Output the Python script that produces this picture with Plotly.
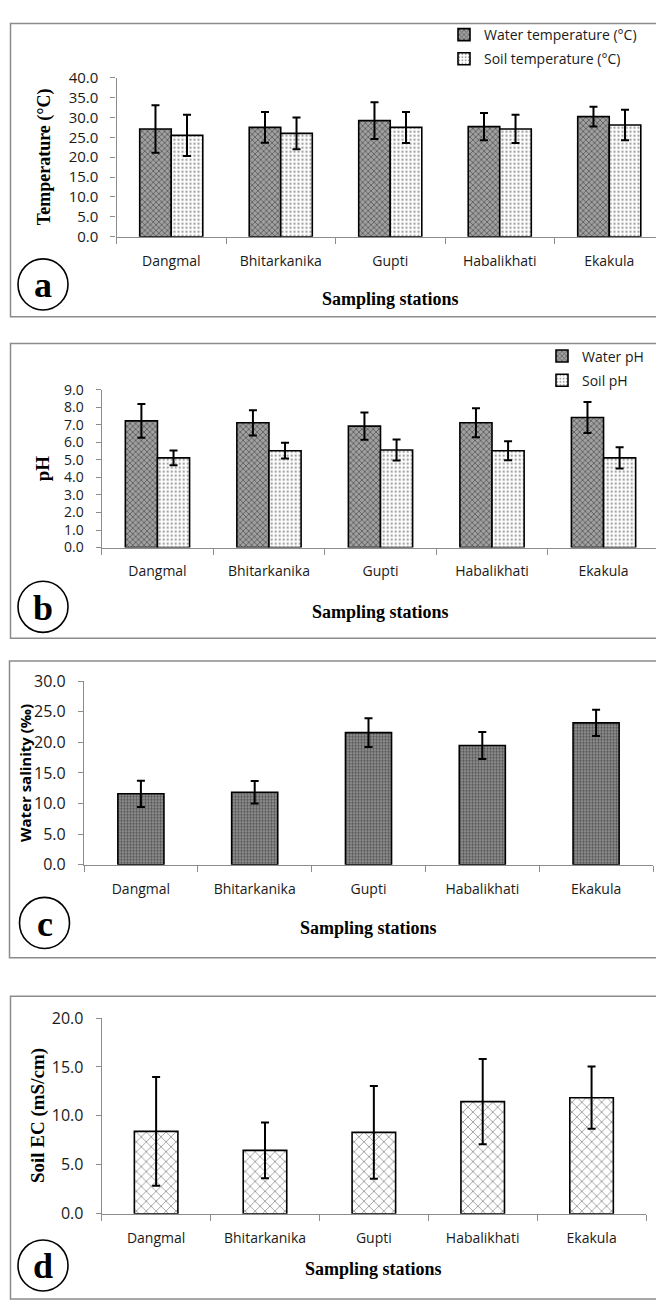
import plotly.graph_objects as go

# page body has an 8px default margin: draw in reference pixel coords shifted by it
OFF = 8
W, H = 664 - OFF, 1305 - OFF

stations = ["Dangmal", "Bhitarkanika", "Gupti", "Habalikhati", "Ekakula"]

water_temp = [27.1, 27.5, 29.2, 27.7, 30.2]
water_temp_sd = [5.95, 3.85, 4.6, 3.45, 2.5]
soil_temp = [25.5, 26.0, 27.5, 27.1, 28.1]
soil_temp_sd = [5.2, 4.0, 3.9, 3.55, 3.85]

water_ph = [7.22, 7.11, 6.92, 7.11, 7.41]
water_ph_sd = [0.96, 0.72, 0.77, 0.83, 0.88]
soil_ph = [5.11, 5.52, 5.56, 5.52, 5.11]
soil_ph_sd = [0.42, 0.45, 0.6, 0.54, 0.6]

salinity = [11.6, 11.84, 21.6, 19.5, 23.2]
salinity_sd = [2.15, 1.83, 2.35, 2.2, 2.15]

soil_ec = [8.41, 6.47, 8.31, 11.46, 11.86]
soil_ec_sd = [5.56, 2.85, 4.74, 4.36, 3.18]

temp_ticks = [0, 5, 10, 15, 20, 25, 30, 35, 40]
ph_ticks = [0, 1, 2, 3, 4, 5, 6, 7, 8, 9]
sal_ticks = [0, 5, 10, 15, 20, 25, 30]
ec_ticks = [0, 5, 10, 15, 20]


def px(x):
    return (x - OFF) / W


def py(y):
    return 1 - (y - OFF) / H


CAT_FONT = dict(family="Open Sans", size=14, color="#1a1a1a")
SERIF_B = "Liberation Serif"
AX = "#8c8c8c"

water_pat = dict(shape="x", fgcolor="#1e1e1e", bgcolor="#a0a0a0", size=4, solidity=0.4)
soil_pat = dict(shape=".", fgcolor="#444444", bgcolor="#ffffff", size=4, solidity=0.28)
sal_pat = dict(shape=".", fgcolor="#111111", bgcolor="#9a9a9a", size=3, solidity=0.5)
ec_pat = dict(shape="x", fgcolor="#222222", bgcolor="#ffffff", size=7, solidity=0.22)

err = dict(type="data", color="black", thickness=2, width=4)
line = dict(color="black", width=1.6)

fig = go.Figure()

# Panel a
fig.add_trace(go.Bar(x=stations, y=water_temp, name="Water temperature (°C)",
                     error_y=dict(array=water_temp_sd, **err),
                     marker=dict(color="#a0a0a0", pattern=water_pat, line=line),
                     xaxis="x", yaxis="y", legend="legend", legendgroup="a1"))
fig.add_trace(go.Bar(x=stations, y=soil_temp, name="Soil temperature (°C)",
                     error_y=dict(array=soil_temp_sd, **err),
                     marker=dict(color="white", pattern=soil_pat, line=line),
                     xaxis="x", yaxis="y", legend="legend", legendgroup="a2"))
# Panel b
fig.add_trace(go.Bar(x=stations, y=water_ph, name="Water pH",
                     error_y=dict(array=water_ph_sd, **err),
                     marker=dict(color="#a0a0a0", pattern=water_pat, line=line),
                     xaxis="x2", yaxis="y2", legend="legend2", legendgroup="b1"))
fig.add_trace(go.Bar(x=stations, y=soil_ph, name="Soil pH",
                     error_y=dict(array=soil_ph_sd, **err),
                     marker=dict(color="white", pattern=soil_pat, line=line),
                     xaxis="x2", yaxis="y2", legend="legend2", legendgroup="b2"))
# Panel c
fig.add_trace(go.Bar(x=stations, y=salinity, name="Water salinity", width=0.405,
                     error_y=dict(array=salinity_sd, **err),
                     marker=dict(color="#9a9a9a", pattern=sal_pat, line=line),
                     xaxis="x3", yaxis="y3", showlegend=False))
# Panel d
fig.add_trace(go.Bar(x=stations, y=soil_ec, name="Soil EC", width=0.40,
                     error_y=dict(array=soil_ec_sd, **err),
                     marker=dict(color="white", pattern=ec_pat, line=line),
                     xaxis="x4", yaxis="y4", showlegend=False))

panels = [
    dict(k="", xd=(116.5, 664), yd=(229.5, 67.7), rng=40, ticks=temp_ticks, nfs=15,
         title="Temperature (°C)", tx=44.5, ty=148, tfont=dict(family=SERIF_B, size=18, color="black"),
         cc=(43, 278), letter="a", sy=293, box=(10.5, 12.5, 663, 311)),
    dict(k="2", xd=(101.7, 659.3), yd=(545.7, 385), rng=9, ticks=ph_ticks, nfs=14,
         title="pH", tx=42, ty=465, tfont=dict(family=SERIF_B, size=19, color="black"),
         cc=(43, 606), letter="b", sy=611.7, box=(10.5, 338, 663, 638)),
    dict(k="3", xd=(84, 653), yd=(868.3, 681.7), rng=30, ticks=sal_ticks, nfs=16,
         title="Water salinity (‰)", tx=25, ty=775, tfont=dict(family="Open Sans", size=15, color="black"),
         cc=(44.5, 927.5), letter="c", sy=933, box=(9.5, 661, 663, 963)),
    dict(k="4", xd=(101.7, 646), yd=(1223.3, 1024.3), rng=20, ticks=ec_ticks, nfs=16,
         title="Soil EC (mS/cm)", tx=38, ty=1124, tfont=dict(family=SERIF_B, size=19, color="black"),
         cc=(43, 1276), letter="d", sy=1280, box=(10.5, 1002, 663, 1310)),
]

shapes = []
annotations = []
for p in panels:
    k = p["k"]
    fig.layout["xaxis" + k] = dict(
        domain=[px(p["xd"][0]), min(1.0, px(p["xd"][1]))], anchor="y" + k,
        range=[-0.5, 4.5], showline=True, linecolor=AX, linewidth=1.2,
        ticks="outside", tickson="boundaries", ticklen=6, tickcolor=AX, tickwidth=1.2,
        tickfont=CAT_FONT, ticklabelstandoff=11, showgrid=False, fixedrange=True)
    fig.layout["yaxis" + k] = dict(
        domain=[py(p["yd"][0]), py(p["yd"][1])], anchor="x" + k,
        range=[0, p["rng"]], tickvals=p["ticks"], tickformat=".1f",
        showline=True, linecolor=AX, linewidth=1.2, ticks="outside", ticklen=5,
        tickcolor=AX, tickwidth=1.2,
        tickfont=dict(family="Open Sans", size=p["nfs"], color="#1a1a1a"),
        ticklabelstandoff=9, showgrid=False, zeroline=False, fixedrange=True)
    bx = p["box"]
    shapes.append(dict(type="rect", xref="paper", yref="paper",
                       x0=px(bx[0]), x1=px(bx[2]), y0=py(bx[3]), y1=py(bx[1]),
                       line=dict(color="#8c8c8c", width=1.5), fillcolor="rgba(0,0,0,0)", layer="below"))
    cx, cy = p["cc"]
    shapes.append(dict(type="circle", xref="paper", yref="paper",
                       x0=px(cx - 25), x1=px(cx + 25), y0=py(cy + 26), y1=py(cy - 26),
                       line=dict(color="black", width=1.6)))
    annotations.append(dict(x=px(cx), y=py(cy + 1), xref="paper", yref="paper", text="<b>%s</b>" % p["letter"],
                            showarrow=False, xanchor="center", yanchor="middle",
                            font=dict(family=SERIF_B, size=36, color="black")))
    annotations.append(dict(x=px((p["xd"][0] + p["xd"][1]) / 2), y=py(p["sy"]), xref="paper", yref="paper",
                            text="<b>Sampling stations</b>", showarrow=False, xanchor="center", yanchor="middle",
                            font=dict(family=SERIF_B, size=18, color="black")))
    annotations.append(dict(x=px(p["tx"]), y=py(p["ty"]), xref="paper", yref="paper",
                            text="<b>%s</b>" % p["title"], textangle=-90, showarrow=False,
                            xanchor="center", yanchor="middle", font=p["tfont"]))

fig.update_layout(
    width=W, height=H, margin=dict(l=0, r=0, t=0, b=0),
    paper_bgcolor="white", plot_bgcolor="white",
    barmode="group", bargap=0.424, bargroupgap=0,
    shapes=shapes, annotations=annotations,
    legend=dict(x=px(444), y=py(8), xanchor="left", yanchor="top", traceorder="grouped",
                tracegroupgap=3, font=dict(family="Open Sans", size=14, color="#1a1a1a"),
                bgcolor="rgba(0,0,0,0)"),
    legend2=dict(x=px(542), y=py(335), xanchor="left", yanchor="top", traceorder="grouped",
                 tracegroupgap=3, font=dict(family="Open Sans", size=14, color="#1a1a1a"),
                 bgcolor="rgba(0,0,0,0)"),
)

fig.write_html("out.html")
